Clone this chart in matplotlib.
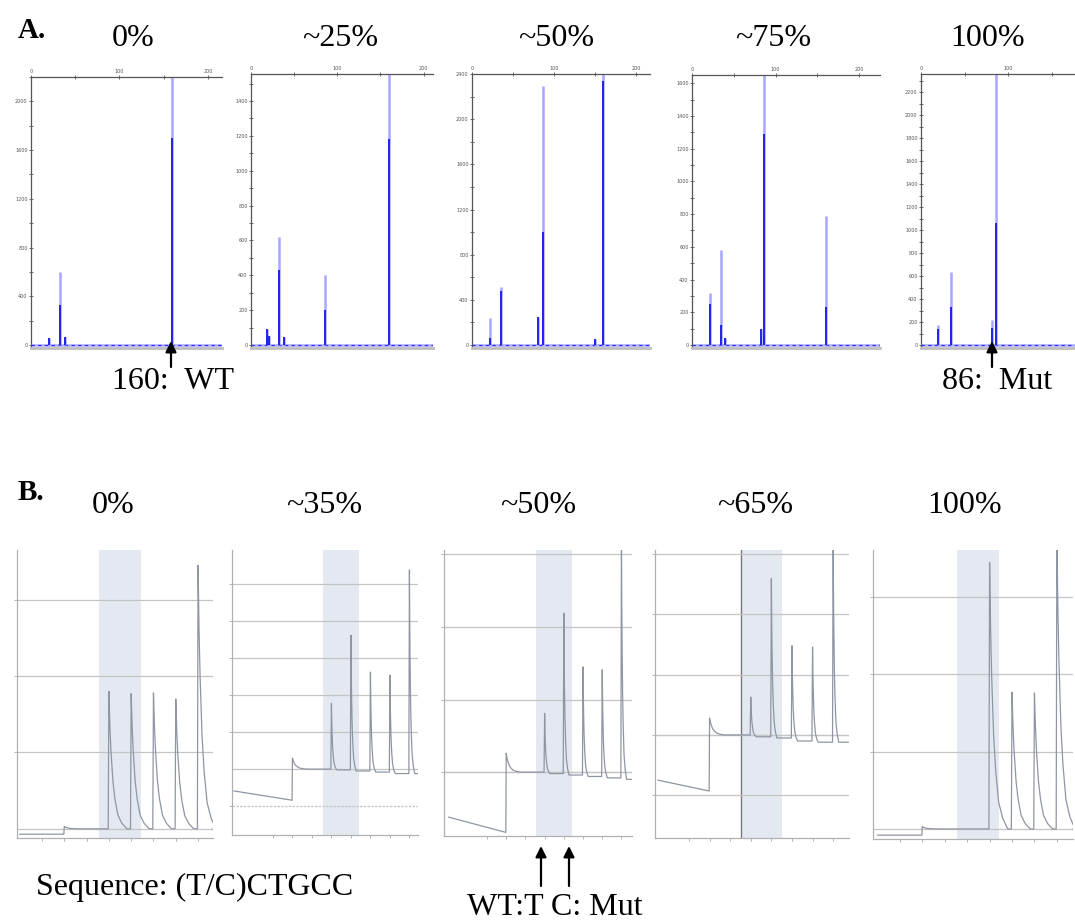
import matplotlib
matplotlib.use('Agg')
import matplotlib.pyplot as plt
from matplotlib.ticker import MultipleLocator

W, H = 1075, 922
SERIF = ['Liberation Serif', 'DejaVu Serif']

# ---------------- Panel A data (fragment analysis) ----------------
A_titles = ['0%', '~25%', '~50%', '~75%', '100%']
A_peak_pos = [[20, 33, 38, 160],
              [19, 21, 33, 38, 86, 160],
              [22, 35, 80, 86, 150, 160],
              [22, 35, 40, 82, 86, 160],
              [20, 34, 82, 86]]
A_peak_height = [[60, 600, 70, 2300],
                 [90, 50, 620, 45, 400, 1600],
                 [240, 510, 250, 2290, 50, 2450],
                 [320, 580, 40, 100, 1700, 790],
                 [170, 640, 220, 2400]]
A_peak_core = [[60, 330, 70, 1700],
               [90, 50, 430, 45, 200, 1180],
               [60, 480, 250, 1000, 50, 2340],
               [250, 120, 40, 100, 1290, 230],
               [140, 330, 150, 1060]]
A_ymax = [2200, 1555, 2400, 1650, 2360]
A_ystep = [400, 200, 400, 200, 200]
A_xmax = [216, 211, 217, 225, 177]
A_xticks = [0, 100, 200]

# ---------------- Panel B data (pyrosequencing) ----------------
B_titles = ['0%', '~35%', '~50%', '~65%', '100%']
B_dispensation = [4, 5, 6, 7, 8]
B_peak_height = [[1.80, 1.77, 1.78, 1.70, 3.45],
                 [1.78, 3.62, 2.62, 2.54, 5.38],
                 [0.81, 2.19, 1.45, 1.41, 3.30],
                 [0.63, 2.60, 1.48, 1.46, 3.30],
                 [0.00, 3.45, 1.77, 1.76, 3.80]]
B_base_after = [[0, 0, 0, 0, 0],
                [-0.02, -0.05, -0.08, -0.12, -0.12],
                [-0.02, -0.04, -0.06, -0.08, -0.10],
                [-0.03, -0.05, -0.10, -0.12, -0.12],
                [0, 0, 0, 0, 0]]
B_pre_start = [0.0, -1.0, -1.0, -0.5, 0.0]
B_pre_level = [(-0.07, -0.07), (-0.59, -0.84), (-0.62, -0.83), (-0.75, -0.93), (-0.08, -0.08)]
B_step_spike = [0.03, 0.30, 0.26, 0.28, 0.03]
B_xlim = [(-0.12, 8.67), (-1.1, 8.44), (-1.24, 8.55), (-0.65, 8.77), (-0.2, 8.72)]
B_ylim = [(-0.12, 3.65), (-1.78, 5.92), (-0.88, 3.06), (-1.71, 3.07), (-0.13, 3.61)]
B_grid = [[1, 2, 3], [-1, 1, 2, 3, 4, 5], [0, 1, 2, 3], [-1, 0, 1, 2, 3], [1, 2, 3]]
B_band = [(3.55, 5.45), (3.56, 5.40), (3.55, 5.45), (3.55, 5.50), (3.54, 5.42)]
B_xticks = [1, 2, 3, 4, 5, 6, 7, 8]

# style: normalised peak tail profile (offset units, fraction of height)
TAIL_DX = [0, 0.05, 0.10, 0.20, 0.30, 0.45, 0.65, 0.90]
TAIL_FR = [1, 0.75, 0.58, 0.35, 0.22, 0.10, 0.04, 0.0]
B_tail_scale = [0.9, 0.3, 0.3, 0.3, 0.9]

A_box = [(31, 77, 222, 348), (251, 74, 433, 348), (472, 74, 650, 348),
         (692, 75, 880, 348), (921, 74, 1075, 348)]
B_box = [(17, 550, 213, 838), (232, 550, 418, 835), (444, 550, 632, 836),
         (655, 550, 849, 838), (873, 550, 1073, 839)]


def rect(b):
    l, t, r, bo = b
    return [l / W, 1 - bo / H, (r - l) / W, (bo - t) / H]


fig = plt.figure(figsize=(W / 100, H / 100), dpi=100)

# ---------------- draw panel A ----------------
for i in range(5):
    ax = fig.add_axes(rect(A_box[i]))
    ymax = A_ymax[i]
    ax.plot([0, A_xmax[i]], [0, 0], color='#b4b4ff', lw=2.0, solid_capstyle='butt')
    ax.plot([0, A_xmax[i]], [0, 0], color='#2a2aff', lw=0.8, ls=(0, (3, 3)))
    ax.vlines(A_peak_pos[i], 0, A_peak_height[i], color='#a6a6ff', lw=1.8)
    ax.vlines(A_peak_pos[i], 0, A_peak_core[i], color='#1515ee', lw=1.3)
    ax.xaxis.tick_top()
    ax.set_xticks(A_xticks)
    ax.xaxis.set_minor_locator(MultipleLocator(50))
    ax.yaxis.set_major_locator(MultipleLocator(A_ystep[i]))
    ax.yaxis.set_minor_locator(MultipleLocator(A_ystep[i] / 2))
    ax.set_xlim(0, A_xmax[i])
    ax.set_ylim(-0.011 * ymax, ymax)
    ax.tick_params(which='both', direction='inout', length=3, width=0.6,
                   labelsize=3.5, pad=1, colors='#555555')
    for s in ('left', 'top'):
        ax.spines[s].set_color('#555555')
        ax.spines[s].set_linewidth(0.9)
    ax.spines['right'].set_visible(False)
    ax.spines['bottom'].set_color('#bdbdbd')
    ax.spines['bottom'].set_linewidth(2.0)

# ---------------- draw panel B ----------------
for i in range(5):
    ax = fig.add_axes(rect(B_box[i]))
    ax.axvspan(*B_band[i], color='#e4e9f1', lw=0, zorder=0)
    if i == 3:
        ax.axvline(B_band[i][0], color='#777777', lw=1.0, zorder=1)
    for g in B_grid[i]:
        ls = (0, (2, 1)) if g < 0 and i == 1 else '-'
        ax.axhline(g, color='#c4c4c4', lw=0.9, ls=ls, zorder=1)
    ax.axhline(0, color='#c4c4c4', lw=0.9, zorder=1)

    sc = B_tail_scale[i]
    xs = [B_pre_start[i], 1.98]
    ys = [B_pre_level[i][0], B_pre_level[i][1]]
    # step / injection spike at dispensation 2
    for dx, fr in zip(TAIL_DX, TAIL_FR):
        xs.append(2 + dx * 0.8)
        ys.append(B_step_spike[i] * fr)
    base = 0.0
    for j, t in enumerate(B_dispensation):
        h = B_peak_height[i][j]
        nb = B_base_after[i][j]
        xs.append(t - 0.03)
        ys.append(base)
        for dx, fr in zip(TAIL_DX, TAIL_FR):
            xs.append(t + dx * sc)
            ys.append(nb + (h - nb) * fr)
        base = nb
    xs.append(B_xlim[i][1])
    ys.append(base)
    ax.plot(xs, ys, color='#8f96a3', lw=0.9, zorder=3)

    ax.set_xticks(B_xticks)
    ax.set_yticks(B_grid[i])
    ax.set_xlim(*B_xlim[i])
    ax.set_ylim(*B_ylim[i])
    ax.tick_params(which='both', direction='out', length=2, width=0.5,
                   labelleft=False, labelbottom=False, colors='#999999')
    for s in ('left', 'bottom'):
        ax.spines[s].set_color('#b0b0b0')
        ax.spines[s].set_linewidth(0.9)
    ax.spines['right'].set_visible(False)
    ax.spines['top'].set_visible(False)

# ---------------- overlay text & arrows ----------------
ov = fig.add_axes([0, 0, 1, 1], zorder=10)
ov.set_xlim(0, W)
ov.set_ylim(H, 0)
ov.axis('off')
ov.patch.set_alpha(0)

FS = 23
A_title_x = [133, 340, 556, 773, 988]
B_title_x = [113, 324, 538, 755, 965]
for x, t in zip(A_title_x, A_titles):
    ov.text(x, 38, t, ha='center', va='center', fontsize=FS, family=SERIF)
for x, t in zip(B_title_x, B_titles):
    ov.text(x, 505, t, ha='center', va='center', fontsize=FS, family=SERIF)
ov.text(18, 30, 'A.', ha='left', va='center', fontsize=21, fontweight='bold', family=SERIF)
ov.text(18, 492, 'B.', ha='left', va='center', fontsize=21, fontweight='bold', family=SERIF)

arrow = dict(arrowstyle='-|>', color='black', lw=1.6, mutation_scale=16, shrinkA=0, shrinkB=0)
ov.annotate('', xy=(171, 341), xytext=(171, 367), arrowprops=arrow)
ov.annotate('', xy=(992, 341), xytext=(992, 367), arrowprops=arrow)
ov.annotate('', xy=(541, 846), xytext=(541, 886), arrowprops=arrow)
ov.annotate('', xy=(569, 846), xytext=(569, 886), arrowprops=arrow)

ov.text(173, 381, '160:  WT', ha='center', va='center', fontsize=FS, family=SERIF)
ov.text(997, 381, '86:  Mut', ha='center', va='center', fontsize=FS, family=SERIF)
ov.text(195, 887, 'Sequence: (T/C)CTGCC', ha='center', va='center', fontsize=FS, family=SERIF)
ov.text(555, 907, 'WT:T C: Mut', ha='center', va='center', fontsize=FS, family=SERIF)

fig.savefig('out.png', dpi=100)
